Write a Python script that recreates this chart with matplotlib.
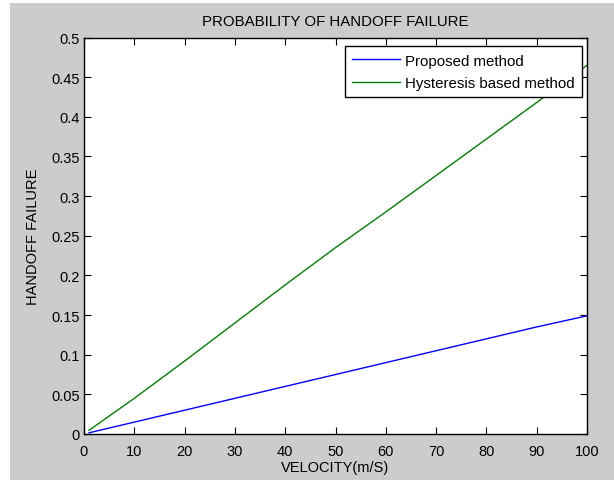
import matplotlib
matplotlib.use("Agg")
import matplotlib.pyplot as plt
from matplotlib.patches import Rectangle

plt.rcParams["font.family"] = ["Liberation Sans", "DejaVu Sans"]

# handoff failure probability versus terminal velocity
velocity = [1, 10, 20, 30, 40, 50, 60, 70, 80, 90, 100]
proposed = [0.0015, 0.015, 0.030, 0.045, 0.060, 0.075, 0.090, 0.105, 0.120, 0.135, 0.149]
hysteresis = [0.0047, 0.045, 0.092, 0.140, 0.188, 0.235, 0.280, 0.326, 0.372, 0.418, 0.465]

x_ticks = list(range(0, 101, 10))
y_ticks = [0, 0.05, 0.1, 0.15, 0.2, 0.25, 0.3, 0.35, 0.4, 0.45, 0.5]
y_labels = ["0", "0.05", "0.1", "0.15", "0.2", "0.25", "0.3", "0.35", "0.4", "0.45", "0.5"]

fig = plt.figure(figsize=(6.14, 4.81), dpi=100, facecolor="white")
# grey window background behind the axes
fig.patches.append(Rectangle((10 / 614, 0), 1, 1 - 4 / 481, transform=fig.transFigure,
                             facecolor="#cccccc", edgecolor="none", zorder=-1))

ax = fig.add_axes([84 / 614, 46 / 481, 503 / 614, 396.5 / 481])
ax.plot(velocity, proposed, color="#0000ff", lw=1, label="Proposed method")
ax.plot(velocity, hysteresis, color="#008000", lw=1, label="Hysteresis based method")

ax.set_xlim(0, 100)
ax.set_ylim(0, 0.5)
ax.set_xticks(x_ticks)
ax.set_yticks(y_ticks)
ax.set_yticklabels(y_labels)
ax.tick_params(direction="in", length=5, width=0.8, top=True, right=True,
               labelsize=10.5, colors="black")
ax.tick_params(axis="x", pad=7.5)
ax.tick_params(axis="y", pad=3)
for s in ax.spines.values():
    s.set_linewidth(1)

ax.set_title("PROBABILITY OF HANDOFF FAILURE", fontsize=10.8, pad=9)
ax.set_xlabel("VELOCITY(m/S)", fontsize=10.5, labelpad=1)
ax.set_ylabel("HANDOFF FAILURE", fontsize=10.5, labelpad=8)

leg = ax.legend(loc="upper right", bbox_to_anchor=(0.990, 0.978), borderaxespad=0,
                fontsize=10.8, fancybox=False, framealpha=1, edgecolor="black",
                handlelength=3.2, handletextpad=0.3, labelspacing=0.55,
                borderpad=0.5)
leg.get_frame().set_linewidth(1)

fig.savefig("out.png", dpi=100, facecolor=fig.get_facecolor())
